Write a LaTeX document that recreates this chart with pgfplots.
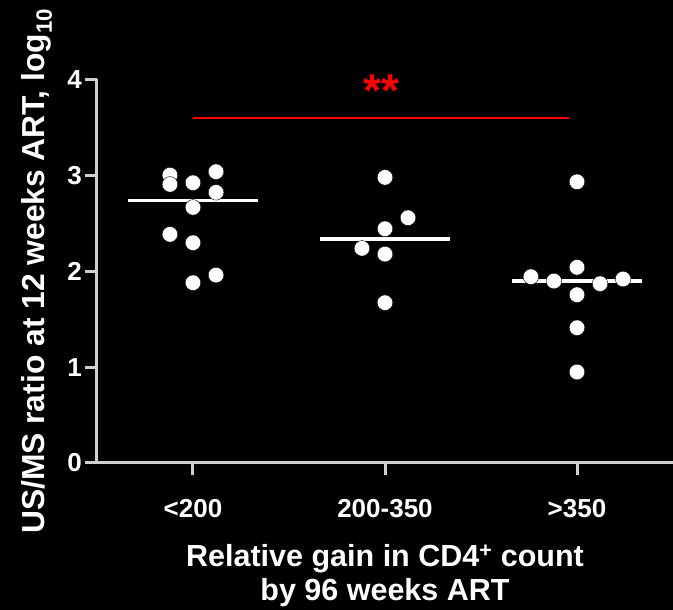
\documentclass[border=0pt]{standalone}
\usepackage{fontspec}
\setmainfont{Liberation Sans}
\usepackage{pgfplots}
\pgfplotsset{compat=1.18}
\definecolor{axisgray}{RGB}{208,208,208}
\begin{document}
\begin{tikzpicture}[x=1pt,y=1pt]
\fill[black] (-97,-147) rectangle (576,463);
\path[use as bounding box] (-97,-147) rectangle (576,463);
\begin{axis}[
  scale only axis, width=576pt, height=383.5pt,
  xmin=0.5, xmax=3.5, ymin=0, ymax=4,
  clip=false,
  axis x line=bottom, axis y line=left,
  axis line style={-, draw=axisgray, line width=3pt},
  xtick={1,2,3}, xticklabels={<200,200-350,>350},
  ytick={0,1,2,3,4},
  minor tick num=0,
  tick style={draw=axisgray, line width=3pt},
  tick align=outside, major tick length=12pt,
  /pgf/number format/assume math mode=true,
  tick label style={font=\bfseries\fontsize{26}{30}\selectfont, text=white},
  yticklabel style={inner sep=0pt, anchor=east, xshift=-3pt},
  xticklabel style={inner sep=0pt, anchor=base, yshift=-43pt},
  xlabel={Relative gain in CD4\textsuperscript{+} count\\by 96 weeks ART},
  every axis x label/.style={at={(axis description cs:0.5,0)}, yshift=-81.5pt, anchor=north, inner sep=0pt, align=center, font=\bfseries\fontsize{30.5}{34}\selectfont, text=white},
  ylabel={US/MS ratio at 12 weeks ART, log\textsubscript{10}},
  every axis y label/.style={at={(axis description cs:0,0.5)}, xshift=-52pt, rotate=90, anchor=base, inner sep=0pt, font=\bfseries\fontsize{31.8}{34}\selectfont, text=white},
]
% medians
\addplot[white, line width=3.6pt] coordinates {(0.66,2.74) (1.34,2.74)};
\addplot[white, line width=3.6pt] coordinates {(1.66,2.339) (2.34,2.339)};
\addplot[white, line width=3.6pt] coordinates {(2.66,1.901) (3.34,1.901)};
% points
\addplot[only marks, mark=*, mark size=7.8pt, mark options={fill=white, draw=none}] coordinates {
(0.88,3.003) (0.88,2.906) (1.00,2.923) (1.12,3.038) (1.12,2.823)
(1.00,2.666) (0.88,2.385) (1.00,2.297) (1.12,1.960) (1.00,1.880)};
\addplot[only marks, mark=*, mark size=7.8pt, mark options={fill=white, draw=none}] coordinates {
(2.00,2.979) (2.12,2.558) (2.00,2.443) (1.88,2.239) (2.00,2.179) (2.00,1.672)};
\addplot[only marks, mark=*, mark size=7.8pt, mark options={fill=white, draw=none}] coordinates {
(3.00,2.933) (2.76,1.943) (2.88,1.898) (3.00,2.041) (3.12,1.870)
(3.24,1.919) (3.00,1.755) (3.00,1.411) (3.00,0.949)};
% significance
\addplot[red, line width=2pt] coordinates {(1,3.594) (2.96,3.594)};
\node[red, font=\bfseries\fontsize{46}{46}\selectfont, anchor=base, inner sep=0pt] at (axis cs:1.98,3.717) {**};
\end{axis}
\end{tikzpicture}
\end{document}
